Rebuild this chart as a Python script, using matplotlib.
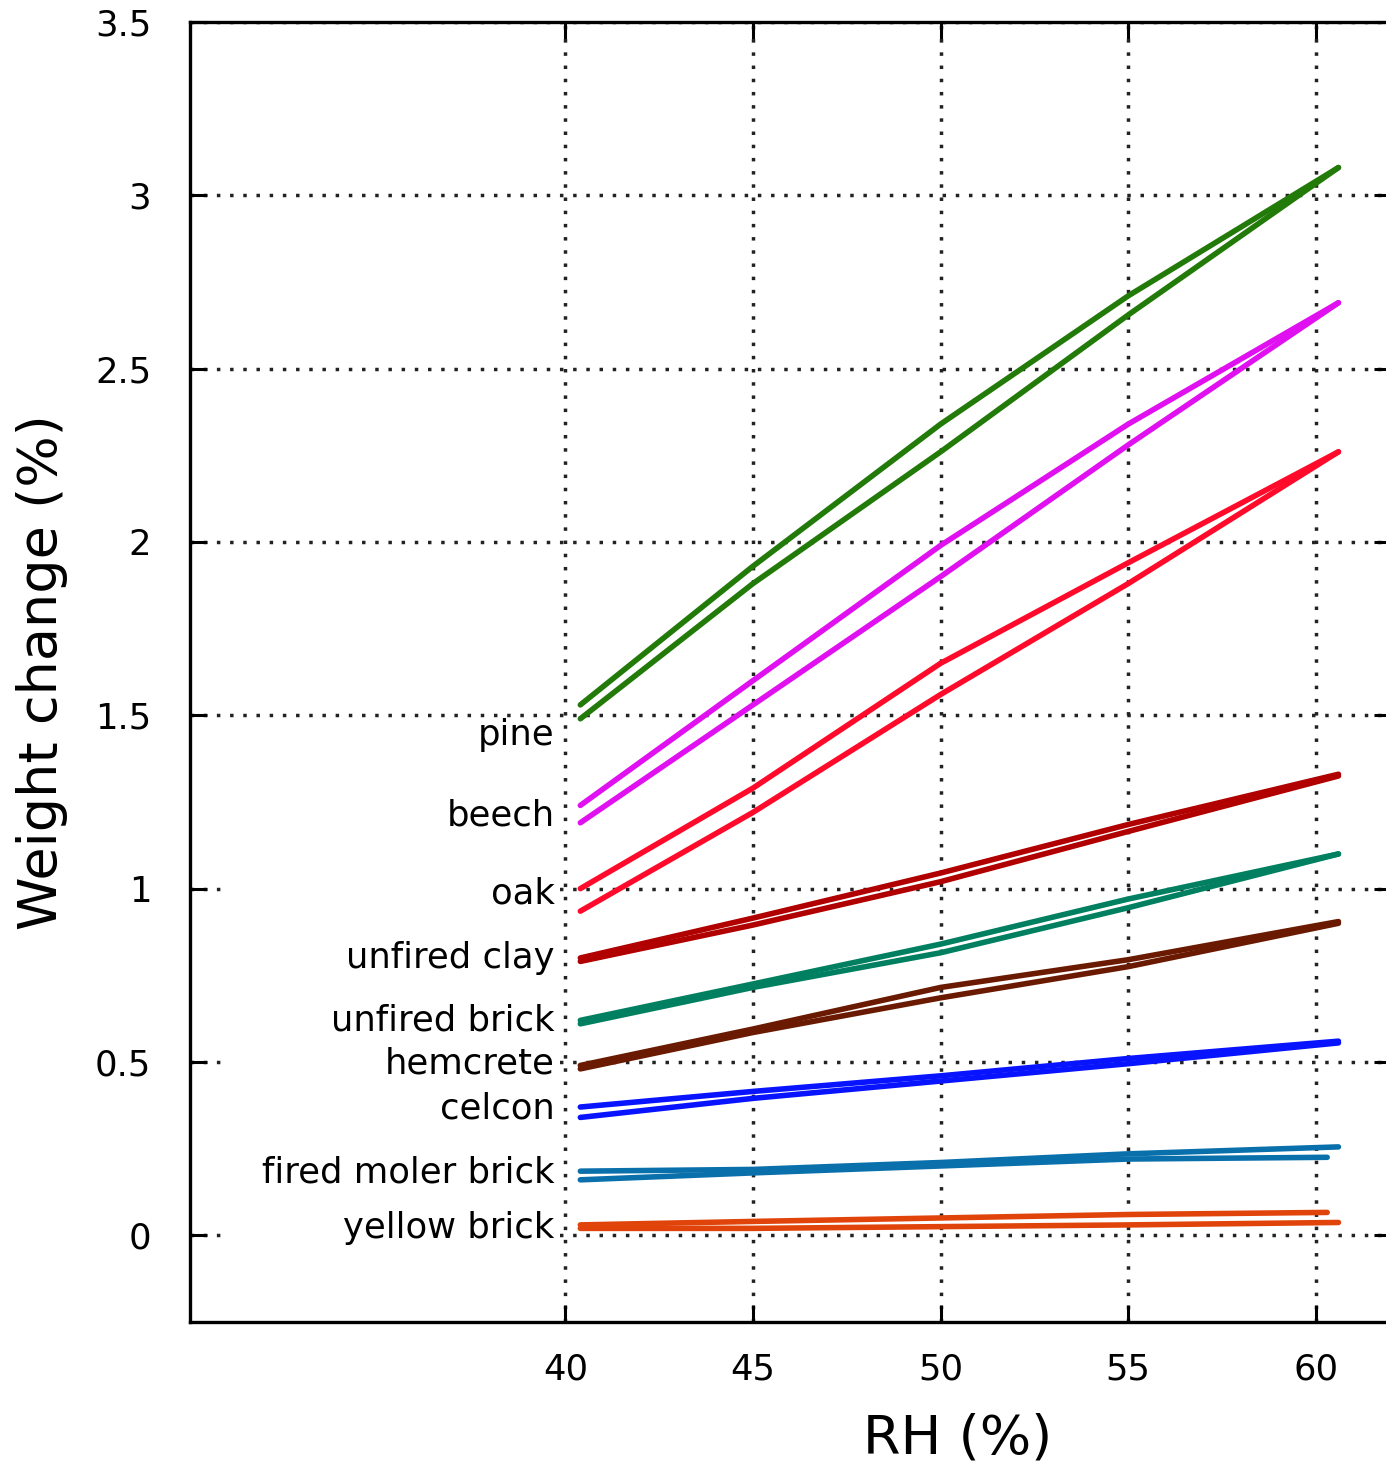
import matplotlib
matplotlib.use('Agg')

import matplotlib.pyplot as plt
from matplotlib.patches import Rectangle

rh = [40.4, 45, 50, 55, 60.6]
rh_short = [40.4, 45, 50, 55, 60.3]

# each material: upper (desorption) and lower (adsorption) branch, weight change %
pine_up = [1.53, 1.93, 2.34, 2.71, 3.08]
pine_lo = [1.49, 1.88, 2.26, 2.655, 3.08]
beech_up = [1.24, 1.60, 1.99, 2.34, 2.69]
beech_lo = [1.19, 1.53, 1.90, 2.28, 2.69]
oak_up = [1.00, 1.29, 1.65, 1.94, 2.26]
oak_lo = [0.935, 1.22, 1.56, 1.88, 2.26]
clay_up = [0.80, 0.915, 1.045, 1.185, 1.33]
clay_lo = [0.79, 0.895, 1.02, 1.165, 1.325]
ubrick_up = [0.62, 0.725, 0.84, 0.97, 1.10]
ubrick_lo = [0.61, 0.715, 0.815, 0.945, 1.10]
hemp_up = [0.49, 0.595, 0.715, 0.795, 0.905]
hemp_lo = [0.48, 0.585, 0.685, 0.775, 0.90]
celcon_up = [0.37, 0.415, 0.46, 0.51, 0.56]
celcon_lo = [0.34, 0.395, 0.445, 0.495, 0.555]
moler_up = [0.185, 0.19, 0.21, 0.235, 0.255]
moler_lo = [0.16, 0.18, 0.20, 0.22, 0.225]
yellow_up = [0.03, 0.04, 0.05, 0.06, 0.066]
yellow_lo = [0.02, 0.02, 0.025, 0.03, 0.037]

names = ["pine", "beech", "oak", "unfired clay", "unfired brick",
         "hemcrete", "celcon", "fired moler brick", "yellow brick"]
label_y = [1.443, 1.212, 0.987, 0.799, 0.62, 0.496, 0.366, 0.182, 0.02]
colors = ["#227a08", "#e010f0", "#ff0a2a", "#b00000", "#008060",
          "#6a1a00", "#0814ff", "#0a70ac", "#e0440a"]

curves = [
    (rh, pine_up, rh, pine_lo),
    (rh, beech_up, rh, beech_lo),
    (rh, oak_up, rh, oak_lo),
    (rh, clay_up, rh, clay_lo),
    (rh, ubrick_up, rh, ubrick_lo),
    (rh, hemp_up, rh, hemp_lo),
    (rh, celcon_up, rh, celcon_lo),
    (rh_short, moler_lo, rh, moler_up),
    (rh_short, yellow_up, rh, yellow_lo),
]

plt.rcParams['font.family'] = ['DejaVu Sans']

fig = plt.figure(figsize=(13.86, 14.63), dpi=100)
ax = fig.add_axes([0.1371, 0.0964, 0.8665, 0.8886])

for (x1, y1, x2, y2), c in zip(curves, colors):
    ax.plot(x1, y1, color=c, lw=4, solid_capstyle='round', zorder=3)
    ax.plot(x2, y2, color=c, lw=4, solid_capstyle='round', zorder=3)

# white block behind the labels hides the grid there
ax.add_patch(Rectangle((30.9, -0.07), 8.95, 1.44, facecolor='white',
                       edgecolor='none', zorder=1))

for name, y in zip(names, label_y):
    ax.text(39.72, y, name, ha='right', va='center', fontsize=25.5, zorder=4)

ax.set_xlim(30, 62)
ax.set_ylim(-0.25, 3.5)
ax.set_xticks([40, 45, 50, 55, 60])
ax.set_yticks([0, 0.5, 1, 1.5, 2, 2.5, 3, 3.5])
ax.set_yticklabels(["0", "0.5", "1", "1.5", "2", "2.5", "3", "3.5"])
ax.grid(True, color='#222222', linestyle=(0, (1, 2.8)), linewidth=2.5, zorder=0.5)
ax.set_axisbelow(True)

ax.tick_params(direction='in', length=12, width=2.2, labelsize=25.5,
               top=True, right=True)
ax.tick_params(axis='y', pad=28)
ax.tick_params(axis='x', pad=22)
for s in ax.spines.values():
    s.set_linewidth(2.4)
    s.set_zorder(5)

ax.set_xlabel("RH (%)", fontsize=39)
ax.set_ylabel("Weight change (%)", fontsize=39)
ax.xaxis.set_label_coords((958 - 190) / (1391 - 190), -0.07)
ax.yaxis.set_label_coords(-0.102, 0.5)

fig.savefig('out.png', dpi=100)
